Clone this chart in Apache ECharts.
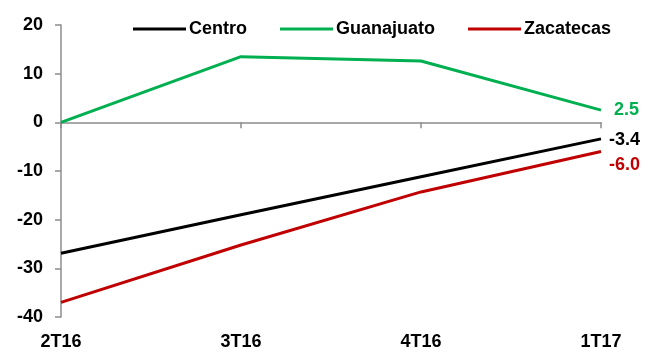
<!DOCTYPE html>
<html>
<head>
<meta charset="utf-8">
<script src="https://cdn.jsdelivr.net/npm/echarts@6/dist/echarts.min.js"></script>
<style>html,body{margin:0;padding:0;background:#fff}#c{width:651px;height:352px}</style>
</head>
<body>
<div id="c"></div>
<script>
const categories = ['2T16', '3T16', '4T16', '1T17'];
const centro = [-26.9, -19.0, -11.2, -3.4];
const guanajuato = [0.0, 13.5, 12.6, 2.5];
const zacatecas = [-37.0, -25.2, -14.3, -6.0];
const yTicks = { min: -40, max: 20, interval: 10 };

const FONT = '"Liberation Sans", Arial, sans-serif';
const axisGray = '#8c8c8c';

function endLabel(color, offsetX, offsetY) {
  return {
    show: true, distance: 8, offset: [offsetX, offsetY],
    formatter: (p) => Number(p.value).toFixed(1),
    color: color, fontFamily: FONT, fontWeight: 'bold', fontSize: 18
  };
}

const chart = echarts.init(document.getElementById('c'), null, { renderer: 'canvas' });
chart.setOption({
  animation: false,
  backgroundColor: '#fff',
  grid: { left: 61, right: 50, top: 25, bottom: 35, containLabel: false },
  legend: {
    left: 128, top: 15,
    itemWidth: 53, itemHeight: 3, itemGap: 33,
    icon: 'rect',
    textStyle: { fontFamily: FONT, fontWeight: 'bold', fontSize: 18, color: '#000', padding: [0, 0, 0, -2] },
    data: ['Centro', 'Guanajuato', 'Zacatecas']
  },
  xAxis: [
    {
      type: 'category', data: categories, boundaryGap: false, position: 'bottom',
      axisLine: { show: false, onZero: false }, axisTick: { show: false },
      axisLabel: { fontFamily: FONT, fontWeight: 'bold', fontSize: 18, color: '#000', margin: 16 },
      splitLine: { show: false }
    },
    {
      type: 'category', data: categories, boundaryGap: false, position: 'top',
      axisLine: { show: true, onZero: true, lineStyle: { color: axisGray, width: 1.5 } },
      axisTick: { show: true, inside: true, length: 6, lineStyle: { color: axisGray, width: 1.5 } },
      axisLabel: { show: false }, splitLine: { show: false }
    }
  ],
  yAxis: {
    type: 'value', min: yTicks.min, max: yTicks.max, interval: yTicks.interval,
    axisLine: { show: true, onZero: false, lineStyle: { color: axisGray, width: 1.5 } },
    axisTick: { show: true, length: 6, lineStyle: { color: axisGray, width: 1.5 } },
    axisLabel: { fontFamily: FONT, fontWeight: 'bold', fontSize: 18, color: '#000', margin: 18 },
    splitLine: { show: false }
  },
  series: [
    { name: 'Centro', type: 'line', xAxisIndex: 0, data: centro,
      showSymbol: false, symbol: 'none', lineStyle: { color: '#000000', width: 3 }, itemStyle: { color: '#000000' },
      endLabel: endLabel('#000000', 0, 1) },
    { name: 'Guanajuato', type: 'line', xAxisIndex: 0, data: guanajuato,
      showSymbol: false, symbol: 'none', lineStyle: { color: '#00B050', width: 3 }, itemStyle: { color: '#00B050' },
      endLabel: endLabel('#00B050', 5, 0) },
    { name: 'Zacatecas', type: 'line', xAxisIndex: 0, data: zacatecas,
      showSymbol: false, symbol: 'none', lineStyle: { color: '#C00000', width: 3 }, itemStyle: { color: '#C00000' },
      endLabel: endLabel('#C00000', 0, 13) }
  ]
});
</script>
</body>
</html>
